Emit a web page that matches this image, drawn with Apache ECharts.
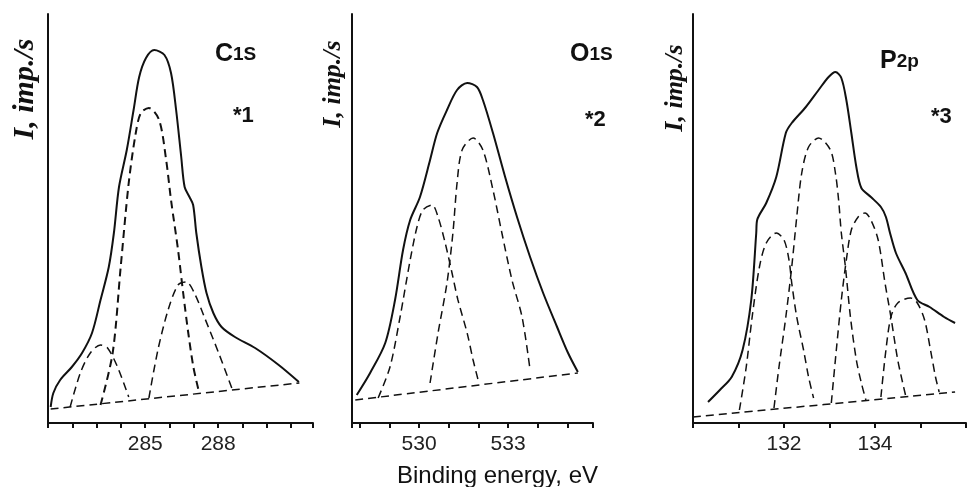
<!DOCTYPE html>
<html>
<head>
<meta charset="utf-8">
<script src="https://cdn.jsdelivr.net/npm/echarts@6/dist/echarts.min.js"></script>
<style>
  html, body { margin: 0; background: #fff; }
  #chart { width: 969px; height: 487px; }
</style>
</head>
<body>
<div id="chart"></div>
<script>
// C1s panel: [binding energy eV, intensity a.u.]
var c1sLabels = [285, 288];
var c1sEnvelope = [[281.11,16],[281.22,30],[281.5,43],[281.98,56],[282.4,70],[282.81,90],[283.16,123],[283.5,156],[283.71,190],[283.92,236],[284.24,273],[284.52,313],[284.75,346],[285.03,365],[285.37,373],[285.79,368],[286.06,350],[286.27,313],[286.48,266],[286.62,236],[286.82,226],[286.97,218],[287.1,190],[287.31,156],[287.52,130],[287.8,110],[288.14,96],[288.69,86],[289.52,75],[290.49,58],[291.32,41]];
var c1sBase = [[281.11,14],[291.34,40]];
var c1sPeak1 = [[283.16,18],[283.66,70],[283.99,156],[284.32,240],[284.61,290],[284.82,310],[285.15,315],[285.57,303],[285.86,263],[286.06,223],[286.35,173],[286.56,130],[286.77,90],[286.98,56],[287.19,33]];
var c1sPeak2 = [[281.91,16],[282.33,50],[282.74,70],[283.16,78],[283.45,75],[283.86,56],[284.32,26]];
var c1sPeak3 = [[285.15,25],[285.52,73],[285.94,113],[286.35,138],[286.69,141],[287.02,130],[287.43,106],[288.02,70],[288.56,35]];

// O1s panel
var o1sLabels = [530, 533];
var o1sEnvelope = [[527.9,28],[528.35,50],[528.86,80],[529.19,123],[529.46,173],[529.7,203],[530.03,226],[530.37,263],[530.61,290],[530.94,313],[531.28,333],[531.62,340],[531.95,336],[532.15,323],[532.49,290],[532.9,246],[533.3,206],[533.74,166],[534.18,130],[534.65,96],[535.02,70],[535.35,51]];
var o1sBase = [[527.85,23],[535.35,50]];
var o1sPeak1 = [[528.62,25],[529.02,56],[529.36,106],[529.7,163],[529.93,196],[530.13,213],[530.44,218],[530.64,206],[530.88,180],[531.11,150],[531.31,123],[531.62,90],[531.82,63],[531.99,43]];
var o1sPeak2 = [[530.37,40],[530.64,90],[530.94,140],[531.14,190],[531.28,240],[531.45,273],[531.82,285],[532.15,273],[532.49,233],[532.79,190],[533.13,143],[533.47,106],[533.74,53]];

// P2p panel
var p2pLabels = [132, 134];
var p2pEnvelope = [[130.33,21],[130.59,33],[130.85,46],[131.09,73],[131.28,123],[131.39,190],[131.41,203],[131.61,220],[131.83,246],[132.04,290],[132.17,300],[132.48,316],[132.76,333],[132.98,346],[133.13,351],[133.26,345],[133.37,323],[133.48,290],[133.59,256],[133.7,235],[133.91,226],[134.13,216],[134.24,206],[134.33,190],[134.46,170],[134.67,150],[134.93,123],[135.2,116],[135.52,106],[135.76,100]];
var p2pBase = [[130,6],[135.76,31]];
var p2pPeak1 = [[131.02,13],[131.17,56],[131.3,106],[131.46,156],[131.61,180],[131.83,190],[132,183],[132.11,163],[132.17,140],[132.28,106],[132.43,73],[132.54,46],[132.65,25]];
var p2pPeak2 = [[131.78,15],[131.89,56],[132.04,106],[132.17,156],[132.28,206],[132.39,250],[132.54,276],[132.76,285],[133.02,273],[133.13,250],[133.2,223],[133.26,190],[133.35,156],[133.46,106],[133.59,63],[133.7,40],[133.8,23]];
var p2pPeak3 = [[133.04,20],[133.15,73],[133.26,123],[133.37,163],[133.48,193],[133.63,206],[133.78,210],[133.91,203],[134.07,183],[134.22,140],[134.35,106],[134.5,63],[134.67,28]];
var p2pPeak4 = [[134.13,26],[134.24,73],[134.35,106],[134.5,120],[134.78,125],[134.93,120],[135.09,103],[135.22,73],[135.33,46],[135.41,31]];

var chart = echarts.init(document.getElementById('chart'));

function xAxisFor(idx, min, max, labels) {
  return {
    type: 'value', gridIndex: idx, min: min, max: max,
    minInterval: 1, maxInterval: 1, splitNumber: 10,
    splitLine: { show: false },
    axisLine: { lineStyle: { color: '#111', width: 2 } },
    axisTick: { length: 5, lineStyle: { color: '#111', width: 2 } },
    axisLabel: {
      margin: 11, color: '#222', fontSize: 21, fontFamily: 'Liberation Sans',
      formatter: function(v) {
        return labels.indexOf(Math.round(v * 100) / 100) >= 0 ? String(v) : '';
      }
    }
  };
}

function yAxisFor(idx) {
  return {
    type: 'value', gridIndex: idx, min: 0, max: 409,
    splitLine: { show: false },
    axisLine: { show: true, lineStyle: { color: '#111', width: 2 } },
    axisTick: { show: false },
    axisLabel: { show: false }
  };
}

function line(data, idx, dashed, width) {
  return {
    type: 'line', xAxisIndex: idx, yAxisIndex: idx, data: data,
    smooth: 0.3, showSymbol: false, silent: true,
    lineStyle: { color: '#111', width: width, type: dashed ? [8, 5] : 'solid' }
  };
}

var titleRich = {
  a: { fontSize: 25, fontWeight: 'bold', fontFamily: 'Liberation Sans', color: '#111' },
  b: { fontSize: 19, fontWeight: 'bold', fontFamily: 'Liberation Sans', color: '#111' }
};
var starStyle = { fontSize: 22, fontWeight: 'bold', fontFamily: 'Liberation Sans', color: '#111' };
var yName = 'I, imp./s';

chart.setOption({
  backgroundColor: '#fff',
  animation: false,
  grid: [
    { left: 48, right: 656, top: 14, bottom: 64 },
    { left: 352, right: 376, top: 14, bottom: 64 },
    { left: 693, right: 0, top: 14, bottom: 64 }
  ],
  xAxis: [
    xAxisFor(0, 281, 291.9, c1sLabels),
    xAxisFor(1, 527.74, 535.86, o1sLabels),
    xAxisFor(2, 130, 136, p2pLabels)
  ],
  yAxis: [yAxisFor(0), yAxisFor(1), yAxisFor(2)],
  title: [
    { text: '{a|C}{b|1S}', left: 210, top: 37, textStyle: { rich: titleRich } },
    { text: '*1', left: 228, top: 100, textStyle: starStyle },
    { text: '{a|O}{b|1S}', left: 565, top: 37, textStyle: { rich: titleRich } },
    { text: '*2', left: 580, top: 104, textStyle: starStyle },
    { text: '{a|P}{b|2p}', left: 875, top: 44, textStyle: { rich: titleRich } },
    { text: '*3', left: 926, top: 101, textStyle: starStyle },
    { text: 'Binding energy, eV', left: 392, top: 459,
      textStyle: { fontSize: 24, fontWeight: 'normal', fontFamily: 'Liberation Sans', color: '#111' } }
  ],
  graphic: [
    { type: 'text', x: 25, y: 89, rotation: Math.PI / 2,
      style: { text: yName, font: 'italic bold 30px "Liberation Serif"', fill: '#111', align: 'center', verticalAlign: 'middle' } },
    { type: 'text', x: 333, y: 84, rotation: Math.PI / 2,
      style: { text: yName, font: 'italic bold 26px "Liberation Serif"', fill: '#111', align: 'center', verticalAlign: 'middle' } },
    { type: 'text', x: 675, y: 88, rotation: Math.PI / 2,
      style: { text: yName, font: 'italic bold 26px "Liberation Serif"', fill: '#111', align: 'center', verticalAlign: 'middle' } }
  ],
  series: [
    line(c1sEnvelope, 0, false, 2),
    line(c1sBase, 0, true, 1.5),
    line(c1sPeak1, 0, true, 2),
    line(c1sPeak2, 0, true, 1.5),
    line(c1sPeak3, 0, true, 1.5),
    line(o1sEnvelope, 1, false, 2),
    line(o1sBase, 1, true, 1.5),
    line(o1sPeak1, 1, true, 1.5),
    line(o1sPeak2, 1, true, 1.5),
    line(p2pEnvelope, 2, false, 2),
    line(p2pBase, 2, true, 1.5),
    line(p2pPeak1, 2, true, 1.5),
    line(p2pPeak2, 2, true, 1.5),
    line(p2pPeak3, 2, true, 1.5),
    line(p2pPeak4, 2, true, 1.5)
  ]
});
</script>
</body>
</html>
